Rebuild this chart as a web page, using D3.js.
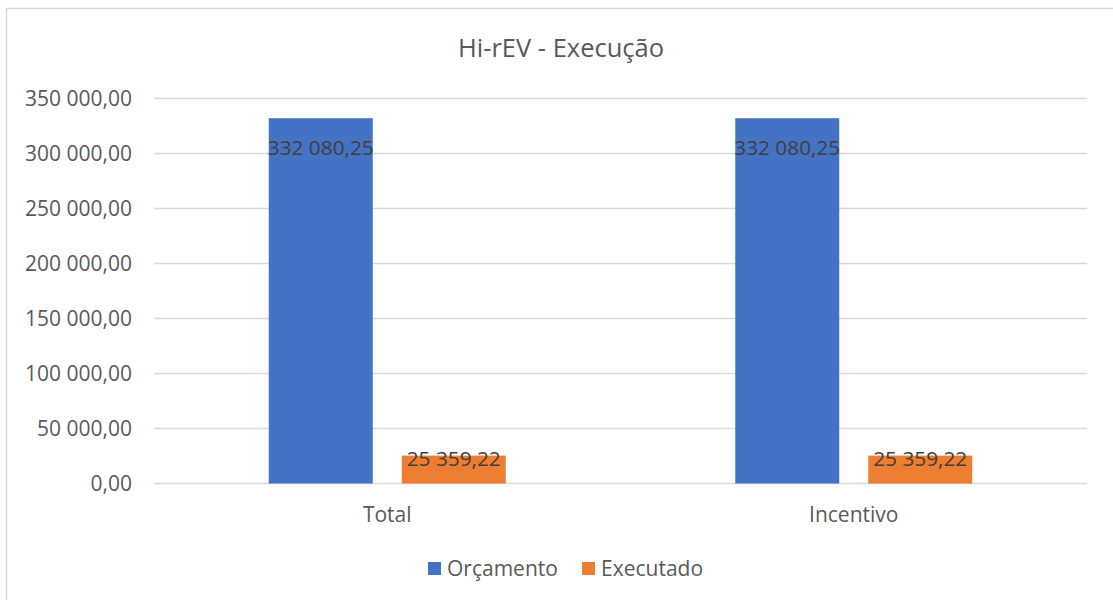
<!DOCTYPE html>
<html>
<head>
<meta charset="utf-8">
<script src="https://cdn.jsdelivr.net/npm/d3@7"></script>
<style>
  body { margin: 0; background: #fff; }
  text { font-family: "Open Sans", "Noto Sans", sans-serif; }
</style>
</head>
<body>
<svg class="chart"></svg>
<script>
// DATA ////////////////////////////////////////
const categories = ["Total", "Incentivo"];
const series = ["Orçamento", "Executado"];
const orcamento = [332080.25, 332080.25];
const executado = [25359.22, 25359.22];
const yTicks = [0, 50000, 100000, 150000, 200000, 250000, 300000, 350000];
const title = "Hi-rEV - Execução";

const colors = { "Orçamento": "#4472c4", "Executado": "#ed7d31" };

// DEFINITIONS /////////////////////////////////
const W = 1113, H = 600;
const margin = { top: 98.5, bottom: 116.5, left: 154, right: 26 };
const width = W - margin.left - margin.right;
const height = H - margin.top - margin.bottom;
const fs = "21px";

const svg = d3.select(".chart").attr("width", W).attr("height", H);

// chart border (only top & left visible in the crop)
svg.append("rect")
  .attr("x", 6.5).attr("y", 8.5)
  .attr("width", W + 10).attr("height", H + 10)
  .attr("fill", "none").attr("stroke", "#d9d9d9").attr("stroke-width", 1.5);

svg.append("text")
  .attr("x", 561).attr("y", 57)
  .attr("text-anchor", "middle")
  .attr("fill", "#595959")
  .style("font-size", "25.5px")
  .text(title);

const chartG = svg.append("g")
  .attr("transform", `translate(${margin.left}, ${margin.top})`);

// SCALES //////////////////////////////////////
const y = d3.scaleLinear().domain([0, 350000]).range([height, 0]);
const x0 = d3.scaleBand().domain(categories).range([0, width]).padding(0);
const x1 = d3.scaleBand().domain(series).range([-118.5, 118.5]).paddingInner(0.218);

const fmt = (v) => d3.format(",.2f")(v).replace(/,/g, " ").replace(".", ",");

// GRID ////////////////////////////////////////
chartG.selectAll(".grid")
  .data(yTicks)
  .enter()
  .append("line")
  .attr("x1", 0).attr("x2", width)
  .attr("y1", (d) => y(d)).attr("y2", (d) => y(d))
  .attr("stroke", "#d9d9d9").attr("stroke-width", 1.5);

const yAxis = chartG.append("g")
  .call(d3.axisLeft(y).tickValues(yTicks).tickSize(0).tickPadding(22).tickFormat(fmt));
yAxis.select(".domain").remove();
yAxis.selectAll("text")
  .attr("fill", "#595959")
  .attr("dy", "0.35em")
  .style("font-size", fs)
  .style("font-family", "'Open Sans', 'Noto Sans', sans-serif");

const xAxis = chartG.append("g")
  .attr("transform", `translate(0, ${height})`)
  .call(d3.axisBottom(x0).tickSize(0).tickPadding(24));
xAxis.select(".domain").remove();
xAxis.selectAll("text")
  .attr("fill", "#595959")
  .style("font-size", fs)
  .style("font-family", "'Open Sans', 'Noto Sans', sans-serif");

// BARS ////////////////////////////////////////
const rows = categories.map((c, i) => ({
  cat: c,
  vals: [
    { key: "Orçamento", value: orcamento[i], dy: 37 },
    { key: "Executado", value: executado[i], dy: 10 },
  ],
}));

const groups = chartG.selectAll(".grp")
  .data(rows)
  .enter()
  .append("g")
  .attr("transform", (d) => `translate(${x0(d.cat) + x0.bandwidth() / 2}, 0)`);

groups.selectAll("rect")
  .data((d) => d.vals)
  .enter()
  .append("rect")
  .attr("x", (d) => x1(d.key))
  .attr("width", x1.bandwidth())
  .attr("y", (d) => y(d.value))
  .attr("height", (d) => height - y(d.value))
  .attr("fill", (d) => colors[d.key]);

groups.selectAll(".lbl")
  .data((d) => d.vals)
  .enter()
  .append("text")
  .attr("x", (d) => x1(d.key) + x1.bandwidth() / 2)
  .attr("y", (d) => y(d.value) + d.dy)
  .attr("text-anchor", "middle")
  .attr("fill", "#404040")
  .style("font-size", "20.8px")
  .text((d) => fmt(d.value));

// LEGEND //////////////////////////////////////
const legend = svg.append("g").attr("transform", "translate(0, 576)");
const legX = [428, 582];
series.forEach((s, i) => {
  legend.append("rect")
    .attr("x", legX[i]).attr("y", -14)
    .attr("width", 13).attr("height", 13)
    .attr("fill", colors[s]);
  legend.append("text")
    .attr("x", legX[i] + 19).attr("y", 0)
    .attr("fill", "#595959")
    .style("font-size", fs)
    .text(s);
});
</script>
</body>
</html>
